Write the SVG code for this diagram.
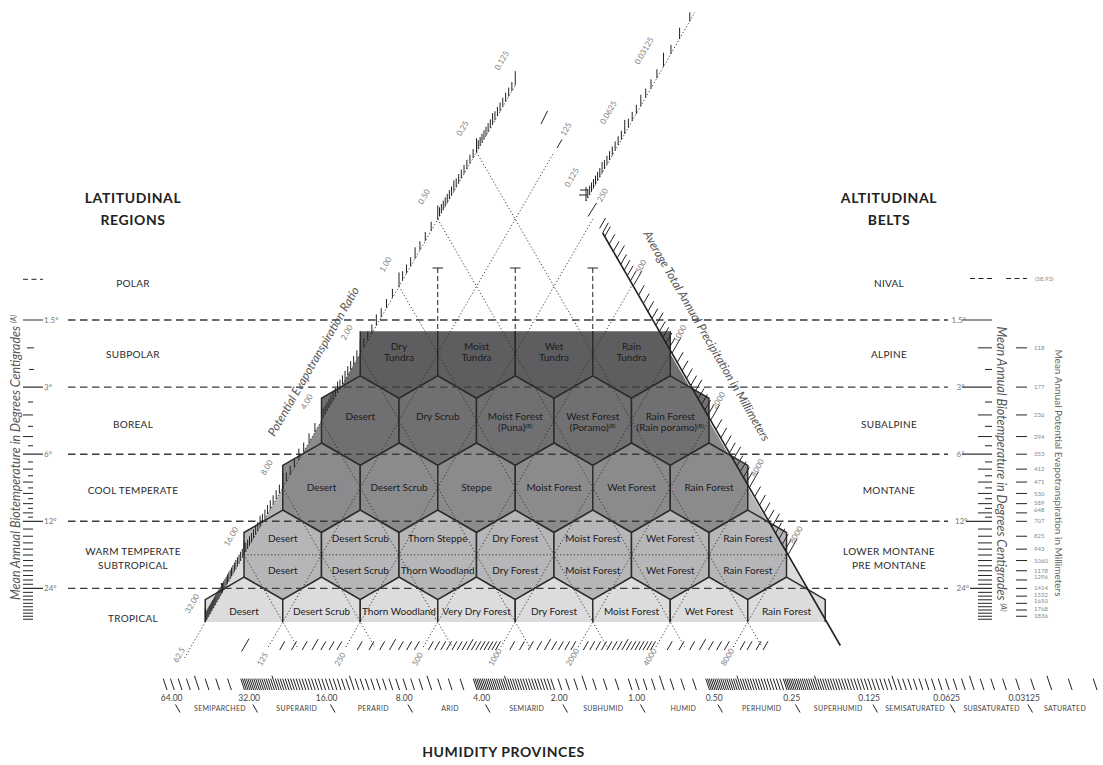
<svg xmlns="http://www.w3.org/2000/svg" width="1103" height="765" viewBox="0 0 1103 765">
<style>
text{font-family:Lato,"Open Sans","Liberation Sans",sans-serif}
.r1{fill:#5e5e61}.r2{fill:#707073}.r3{fill:#8b8b8e}.r4{fill:#b6b6b9}.r5{fill:#dcdcde}
.hx{stroke:#2c2c2c;stroke-width:1.5}
.lb{font-size:10px;fill:#1c1c1c;text-anchor:middle}
.sup{font-size:6px}
.dot{stroke:#2a2a2a;stroke-width:0.9;stroke-dasharray:1.2 2.2;fill:none}
.dash{stroke:#3c3c3c;stroke-width:1.4;stroke-dasharray:7.5 4.5;fill:none}
.reg{font-size:10px;fill:#2a2a2a;text-anchor:middle;letter-spacing:0.3px}
.hd{font-size:14px;font-weight:700;fill:#222;text-anchor:middle;letter-spacing:0.6px}
.ax{font-size:8px;fill:#808080;text-anchor:middle}
.deg{font-size:8px;fill:#777}
.ln{stroke:#222;stroke-width:1;fill:none}
.lnt{stroke:#333;stroke-width:1.2;fill:none}
.ttl{font-style:italic;fill:#555;text-anchor:middle}
.num{font-size:8.5px;fill:#444;text-anchor:middle}
.prov{font-size:7px;fill:#444;text-anchor:middle;letter-spacing:0.3px}
.pet{font-size:6px;fill:#888}
</style>
<defs>
<polygon id="hx" points="0,-44.74 38.75,-22.37 38.75,22.37 0,44.74 -38.75,22.37 -38.75,-22.37"/>
<path id="h1" d="M-38.75,-22.37V22.37L0,44.74L38.75,22.37V-22.37"/>
<path id="h5" d="M-38.75,0V-22.37L0,-44.74L38.75,-22.37V0"/>
<path id="t4" fill="none" stroke="#222" stroke-width="1" vector-effect="non-scaling-stroke" d="M14.93,0v-1M32.17,0v-1.25M52.55,0v-1"/>
<path id="t8" fill="none" stroke="#222" stroke-width="1" vector-effect="non-scaling-stroke" d="M7.22,0v-1M14.93,0v-1M23.22,0v-1M32.17,0v-1.25M41.89,0v-1M52.55,0v-1M64.33,0v-1"/>
<path id="t10" fill="none" stroke="#222" stroke-width="1" vector-effect="non-scaling-stroke" d="M5.74,0v-1M11.78,0v-1M18.17,0v-1M24.95,0v-1M32.17,0v-1.25M39.88,0v-1M48.17,0v-1M57.11,0v-1M66.84,0v-1"/>
<path id="t16" fill="none" stroke="#222" stroke-width="1" vector-effect="non-scaling-stroke" d="M3.55,0v-1M7.22,0v-1M11.01,0v-1M14.93,0v-1M19,0v-1M23.22,0v-1M27.6,0v-1M32.17,0v-1.25M36.92,0v-1M41.89,0v-1M47.1,0v-1M52.55,0v-1M58.29,0v-1M64.33,0v-1M70.72,0v-1"/>
<path id="t32" fill="none" stroke="#222" stroke-width="1" vector-effect="non-scaling-stroke" d="M1.76,0v-1M3.55,0v-1M5.37,0v-1M7.22,0v-1M9.1,0v-1M11.01,0v-1M12.95,0v-1M14.93,0v-1M16.94,0v-1M19,0v-1M21.09,0v-1M23.22,0v-1M25.39,0v-1M27.6,0v-1M29.86,0v-1M32.17,0v-1.25M34.52,0v-1M36.92,0v-1M39.38,0v-1M41.89,0v-1M44.46,0v-1M47.1,0v-1M49.79,0v-1M52.55,0v-1M55.38,0v-1M58.29,0v-1M61.28,0v-1M64.33,0v-1M67.51,0v-1M70.72,0v-1M74.06,0v-1"/>
</defs>

<g id="bands">
<polygon class="r2" points="360.25,353.55 670.25,353.55 709,420.65 321.5,420.65"/>
<polygon class="r3" points="321.5,420.65 709,420.65 747.75,487.75 282.75,487.75"/>
<polygon class="r4" points="282.75,487.75 747.75,487.75 786.5,554.85 244,554.85"/>
<polygon class="r5" points="244,554.85 786.5,554.85 825.25,621.95 205.25,621.95"/>
</g>

<g id="row1">
<g id="dry-tundra"><use href="#h1" x="399" y="353.55" class="r1 hx"/><text class="lb" x="399" y="350.2">Dry</text><text class="lb" x="399" y="360.8">Tundra</text></g>
<g id="moist-tundra"><use href="#h1" x="476.5" y="353.55" class="r1 hx"/><text class="lb" x="476.5" y="350.2">Moist</text><text class="lb" x="476.5" y="360.8">Tundra</text></g>
<g id="wet-tundra"><use href="#h1" x="554" y="353.55" class="r1 hx"/><text class="lb" x="554" y="350.2">Wet</text><text class="lb" x="554" y="360.8">Tundra</text></g>
<g id="rain-tundra"><use href="#h1" x="631.5" y="353.55" class="r1 hx"/><text class="lb" x="631.5" y="350.2">Rain</text><text class="lb" x="631.5" y="360.8">Tundra</text></g>
</g>

<g id="row2">
<g id="boreal-desert"><use href="#hx" x="360.25" y="420.65" class="r2 hx"/><text class="lb" x="360.25" y="420.3">Desert</text></g>
<g id="dry-scrub"><use href="#hx" x="437.75" y="420.65" class="r2 hx"/><text class="lb" x="437.75" y="420.3">Dry Scrub</text></g>
<g id="moist-forest-puna"><use href="#hx" x="515.25" y="420.65" class="r2 hx"/><text class="lb" x="515.25" y="420.3">Moist Forest</text><text class="lb" x="515.25" y="431.3">(Puna)<tspan class="sup" dy="-3">(B)</tspan></text></g>
<g id="west-forest-poramo"><use href="#hx" x="592.75" y="420.65" class="r2 hx"/><text class="lb" x="592.75" y="420.3">West Forest</text><text class="lb" x="592.75" y="431.3">(Poramo)<tspan class="sup" dy="-3">(B)</tspan></text></g>
<g id="rain-forest-rain-poramo"><use href="#hx" x="670.25" y="420.65" class="r2 hx"/><text class="lb" x="670.25" y="420.3">Rain Forest</text><text class="lb" x="670.25" y="431.3">(Rain poramo)<tspan class="sup" dy="-3">(B)</tspan></text></g>
</g>

<g id="row3">
<g id="cool-desert"><use href="#hx" x="321.5" y="487.75" class="r3 hx"/><text class="lb" x="321.5" y="491.3">Desert</text></g>
<g id="cool-desert-scrub"><use href="#hx" x="399" y="487.75" class="r3 hx"/><text class="lb" x="399" y="491.3">Desert Scrub</text></g>
<g id="steppe"><use href="#hx" x="476.5" y="487.75" class="r3 hx"/><text class="lb" x="476.5" y="491.3">Steppe</text></g>
<g id="cool-moist-forest"><use href="#hx" x="554" y="487.75" class="r3 hx"/><text class="lb" x="554" y="491.3">Moist Forest</text></g>
<g id="cool-wet-forest"><use href="#hx" x="631.5" y="487.75" class="r3 hx"/><text class="lb" x="631.5" y="491.3">Wet Forest</text></g>
<g id="cool-rain-forest"><use href="#hx" x="709" y="487.75" class="r3 hx"/><text class="lb" x="709" y="491.3">Rain Forest</text></g>
</g>

<g id="row4">
<g id="warm-desert"><use href="#hx" x="282.75" y="554.85" class="r4 hx"/><text class="lb" x="282.75" y="541.8">Desert</text><text class="lb" x="282.75" y="574.2">Desert</text></g>
<g id="warm-desert-scrub"><use href="#hx" x="360.25" y="554.85" class="r4 hx"/><text class="lb" x="360.25" y="541.8">Desert Scrub</text><text class="lb" x="360.25" y="574.2">Desert Scrub</text></g>
<g id="thorn-steppe"><use href="#hx" x="437.75" y="554.85" class="r4 hx"/><text class="lb" x="437.75" y="541.8">Thorn Steppe</text><text class="lb" x="437.75" y="574.2">Thorn Woodland</text></g>
<g id="warm-dry-forest"><use href="#hx" x="515.25" y="554.85" class="r4 hx"/><text class="lb" x="515.25" y="541.8">Dry Forest</text><text class="lb" x="515.25" y="574.2">Dry Forest</text></g>
<g id="warm-moist-forest"><use href="#hx" x="592.75" y="554.85" class="r4 hx"/><text class="lb" x="592.75" y="541.8">Moist Forest</text><text class="lb" x="592.75" y="574.2">Moist Forest</text></g>
<g id="warm-wet-forest"><use href="#hx" x="670.25" y="554.85" class="r4 hx"/><text class="lb" x="670.25" y="541.8">Wet Forest</text><text class="lb" x="670.25" y="574.2">Wet Forest</text></g>
<g id="warm-rain-forest"><use href="#hx" x="747.75" y="554.85" class="r4 hx"/><text class="lb" x="747.75" y="541.8">Rain Forest</text><text class="lb" x="747.75" y="574.2">Rain Forest</text></g>
</g>

<g id="row5">
<g id="trop-desert"><use href="#h5" x="244" y="621.95" class="r5 hx"/><text class="lb" x="244" y="615.2">Desert</text></g>
<g id="trop-desert-scrub"><use href="#h5" x="321.5" y="621.95" class="r5 hx"/><text class="lb" x="321.5" y="615.2">Desert Scrub</text></g>
<g id="trop-thorn-woodland"><use href="#h5" x="399" y="621.95" class="r5 hx"/><text class="lb" x="399" y="615.2">Thorn Woodland</text></g>
<g id="very-dry-forest"><use href="#h5" x="476.5" y="621.95" class="r5 hx"/><text class="lb" x="476.5" y="615.2">Very Dry Forest</text></g>
<g id="trop-dry-forest"><use href="#h5" x="554" y="621.95" class="r5 hx"/><text class="lb" x="554" y="615.2">Dry Forest</text></g>
<g id="trop-moist-forest"><use href="#h5" x="631.5" y="621.95" class="r5 hx"/><text class="lb" x="631.5" y="615.2">Moist Forest</text></g>
<g id="trop-wet-forest"><use href="#h5" x="709" y="621.95" class="r5 hx"/><text class="lb" x="709" y="615.2">Wet Forest</text></g>
<g id="trop-rain-forest"><use href="#h5" x="786.5" y="621.95" class="r5 hx"/><text class="lb" x="786.5" y="615.2">Rain Forest</text></g>
</g>

<g id="connectors">
<path class="dot" d="M184.5,658L515.25,85.15M268.29,647L554,152.15M345.79,647L592.75,219.25M423.29,647L631.5,286.35M500.79,647L670.25,353.45M578.29,647L709,420.55M655.79,647L747.75,487.65M733.29,647L786.5,554.75"/>
<path class="dot" d="M476.5,152.15L762.21,647M437.75,219.25L684.71,647M399,286.35L607.21,647M360.25,353.45L529.71,647M321.5,420.55L452.21,647M282.75,487.65L374.71,647M244,554.75L297.21,647"/>
<path class="dot" d="M244,554.85H786.5"/>
<path class="dash" d="M68,320H948M68,387.1H948M68,454.2H948M68,521.3H948M68,588.4H948"/>
<path class="ln" stroke-dasharray="5 3" d="M437.75,268V331M515.25,268V331M592.75,268V331"/>
<path class="ln" d="M432.5,268H443M510,268H520.5M587.5,268H598"/>
<path stroke="#222" stroke-width="1.6" fill="none" d="M602.7,233L840.3,645.5"/>
</g>

<g id="left-axis">
<use href="#t32" transform="matrix(0.5,-0.866,0,9,205.25,621.95)"/>
<use href="#t16" transform="matrix(0.5,-0.866,0,9,244,554.85)"/>
<use href="#t8" transform="matrix(0.5,-0.866,0,9,282.75,487.75)"/>
<use href="#t16" transform="matrix(0.5,-0.866,0,9,321.5,420.65)"/>
<use href="#t8" transform="matrix(0.5,-0.866,0,9,360.25,353.55)"/>
<use href="#t8" transform="matrix(0.5,-0.866,0,9,399,286.45)"/>
<use href="#t16" transform="matrix(0.5,-0.866,0,9,437.75,219.35)"/>
<use href="#t16" transform="matrix(0.5,-0.866,0,9,476.5,152.25)"/>
<path class="ln" d="M205.25,621.95v-14M244,554.85v-14M282.75,487.75v-14M321.5,420.65v-14M360.25,353.55v-14M399,286.45v-14M437.75,219.35v-14M476.5,152.25v-14M515.25,85.15v-14"/>
<text class="ax" transform="translate(192,603.5) rotate(-60)" dy="0.35em">32.00</text>
<text class="ax" transform="translate(231,536.5) rotate(-60)" dy="0.35em">16.00</text>
<text class="ax" transform="translate(266.7,467.5) rotate(-60)" dy="0.35em">8.00</text>
<text class="ax" transform="translate(306.7,401.7) rotate(-60)" dy="0.35em">4.00</text>
<text class="ax" transform="translate(346.7,332.5) rotate(-60)" dy="0.35em">2.00</text>
<text class="ax" transform="translate(385.5,264.5) rotate(-60)" dy="0.35em">1.00</text>
<text class="ax" transform="translate(424,196.7) rotate(-60)" dy="0.35em">0.50</text>
<text class="ax" transform="translate(462.5,128.3) rotate(-60)" dy="0.35em">0.25</text>
<text class="ax" transform="translate(501.7,60.5) rotate(-60)" dy="0.35em">0.125</text>
<text class="ttl" font-size="12" transform="translate(317,363.5) rotate(-60)">Potential Evapotranspiration Ratio</text>
</g>

<g id="upper-axis">
<path class="dot" d="M586,201L695,12"/>
<use href="#t16" transform="matrix(0.5,-0.866,0,9,586,201)"/>
<use href="#t8" transform="matrix(0.5,-0.866,0,9,624.75,133.9)"/>
<use href="#t4" transform="matrix(0.5,-0.866,0,9,663.5,66.8)"/>
<path class="ln" d="M586,201v-14M624.75,133.9v-14M663.5,66.8v-14M580,190h8M579,195h8"/>
<text class="ax" transform="translate(571.7,177.5) rotate(-60)" dy="0.35em">0.125</text>
<text class="ax" transform="translate(608.3,112.5) rotate(-60)" dy="0.35em">0.0625</text>
<text class="ax" transform="translate(644,50.8) rotate(-60)" dy="0.35em">0.03125</text>
</g>

<g id="right-axis">
<use href="#t10" transform="matrix(-0.5,-0.866,-6,10.39,633,286.35)"/>
<use href="#t10" transform="matrix(-0.5,-0.866,-6,10.39,671.75,353.45)"/>
<use href="#t10" transform="matrix(-0.5,-0.866,-6,10.39,710.5,420.55)"/>
<use href="#t10" transform="matrix(-0.5,-0.866,-6,10.39,749.25,487.65)"/>
<use href="#t10" transform="matrix(-0.5,-0.866,-6,10.39,788,554.75)"/>
<path class="ln" d="M633,286.35l9,-15.6M671.75,353.45l9,-15.6M710.5,420.55l9,-15.6M749.25,487.65l9,-15.6M788,554.75l9,-15.6M602.7,233l5.6,-10.3M541,124l6.5,-13M557,148l5,-8.5M588,216.5l8.5,-13.5"/>
<text class="ax" transform="translate(641,266.4) rotate(-60)" dy="0.35em">500</text>
<text class="ax" transform="translate(679.8,333.5) rotate(-60)" dy="0.35em">1000</text>
<text class="ax" transform="translate(718.5,400.6) rotate(-60)" dy="0.35em">2000</text>
<text class="ax" transform="translate(757.3,467.7) rotate(-60)" dy="0.35em">4000</text>
<text class="ax" transform="translate(796,534.8) rotate(-60)" dy="0.35em">8000</text>
<text class="ax" transform="translate(566,129) rotate(-60)" dy="0.35em">125</text>
<text class="ax" transform="translate(602.5,195) rotate(-60)" dy="0.35em">250</text>
<text class="ttl" font-size="12" transform="translate(703,338) rotate(60)">Average Total Annual Precipitation in Millimeters</text>
</g>

<g id="bottom-precip">
<use href="#t8" transform="matrix(-1,0,-5,8.66,344.05,650)"/>
<use href="#t8" transform="matrix(-1,0,-5,8.66,421.55,650)"/>
<use href="#t16" transform="matrix(-1,0,-5,8.66,499.05,650)"/>
<use href="#t10" transform="matrix(-1,0,-5,8.66,576.55,650)"/>
<use href="#t16" transform="matrix(-1,0,-5,8.66,654.05,650)"/>
<use href="#t8" transform="matrix(-1,0,-5,8.66,731.55,650)"/>
<path class="ln" d="M241.6,651.5l7.4,-12.8M740,650l5,-8.66M747,650l5,-8.66M756,650l5,-8.66M763,650l5,-8.66"/>
<text class="ax" transform="translate(179,655) rotate(-60)" dy="0.35em">62.5</text>
<text class="ax" transform="translate(262.5,659) rotate(-60)" dy="0.35em">125</text>
<text class="ax" transform="translate(340,659) rotate(-60)" dy="0.35em">250</text>
<text class="ax" transform="translate(417.5,659) rotate(-60)" dy="0.35em">500</text>
<text class="ax" transform="translate(495,657) rotate(-60)" dy="0.35em">1000</text>
<text class="ax" transform="translate(572.5,657) rotate(-60)" dy="0.35em">2000</text>
<text class="ax" transform="translate(650,657) rotate(-60)" dy="0.35em">4000</text>
<text class="ax" transform="translate(727.5,657) rotate(-60)" dy="0.35em">8000</text>
</g>

<g id="humidity-scale">
<use href="#t8" transform="matrix(1,0,3.8,11.4,167.04,690)"/>
<use href="#t32" transform="matrix(1,0,3.8,11.4,244.54,690)"/>
<use href="#t16" transform="matrix(1,0,3.8,11.4,322.04,690)"/>
<use href="#t8" transform="matrix(1,0,3.8,11.4,399.54,690)"/>
<use href="#t32" transform="matrix(1,0,3.8,11.4,477.04,690)"/>
<use href="#t8" transform="matrix(1,0,3.8,11.4,554.54,690)"/>
<use href="#t8" transform="matrix(1,0,3.8,11.4,632.04,690)"/>
<use href="#t32" transform="matrix(1,0,3.8,11.4,709.54,690)"/>
<use href="#t32" transform="matrix(1,0,3.8,11.4,787.04,690)"/>
<use href="#t16" transform="matrix(1,0,3.8,11.4,864.54,690)"/>
<use href="#t8" transform="matrix(1,0,3.8,11.4,942.04,690)"/>
<use href="#t4" transform="matrix(1,0,3.8,11.4,1019.54,690)"/>
<path class="ln" d="M167.04,690l-3.8,-11.4M244.54,690l-3.8,-11.4M322.04,690l-3.8,-11.4M399.54,690l-3.8,-11.4M477.04,690l-3.8,-11.4M554.54,690l-3.8,-11.4M632.04,690l-3.8,-11.4M709.54,690l-3.8,-11.4M787.04,690l-3.8,-11.4M864.54,690l-3.8,-11.4M942.04,690l-3.8,-11.4M1019.54,690l-3.8,-11.4M1097.04,690l-3.8,-11.4"/>
<path class="ln" d="M175.41,704.5l4.62,8M252.91,704.5l4.62,8M330.41,704.5l4.62,8M407.91,704.5l4.62,8M485.41,704.5l4.62,8M562.91,704.5l4.62,8M640.41,704.5l4.62,8M717.91,704.5l4.62,8M795.41,704.5l4.62,8M872.91,704.5l4.62,8M950.41,704.5l4.62,8M1027.91,704.5l4.62,8"/>
<text class="num" x="171.7" y="701">64.00</text>
<text class="num" x="249.2" y="701">32.00</text>
<text class="num" x="326.7" y="701">16.00</text>
<text class="num" x="404.2" y="701">8.00</text>
<text class="num" x="481.7" y="701">4.00</text>
<text class="num" x="559.2" y="701">2.00</text>
<text class="num" x="636.7" y="701">1.00</text>
<text class="num" x="714.2" y="701">0.50</text>
<text class="num" x="791.7" y="701">0.25</text>
<text class="num" x="869.2" y="701">0.125</text>
<text class="num" x="946.7" y="701">0.0625</text>
<text class="num" x="1024.2" y="701">0.03125</text>
<text class="prov" x="220" y="710.8">SEMIPARCHED</text>
<text class="prov" x="296.7" y="710.8">SUPERARID</text>
<text class="prov" x="373.3" y="710.8">PERARID</text>
<text class="prov" x="450" y="710.8">ARID</text>
<text class="prov" x="526.7" y="710.8">SEMIARID</text>
<text class="prov" x="603.3" y="710.8">SUBHUMID</text>
<text class="prov" x="683.3" y="710.8">HUMID</text>
<text class="prov" x="761.7" y="710.8">PERHUMID</text>
<text class="prov" x="838.3" y="710.8">SUPERHUMID</text>
<text class="prov" x="915" y="710.8">SEMISATURATED</text>
<text class="prov" x="991.7" y="710.8">SUBSATURATED</text>
<text class="prov" x="1065" y="710.8">SATURATED</text>
<text class="hd" x="503.5" y="757" font-size="13">HUMIDITY PROVINCES</text>
</g>

<g id="left-labels">
<text class="hd" x="133" y="203">LATITUDINAL</text>
<text class="hd" x="133" y="225">REGIONS</text>
<text class="reg" x="133" y="286.5">POLAR</text>
<text class="reg" x="133" y="357.5">SUBPOLAR</text>
<text class="reg" x="133" y="427.8">BOREAL</text>
<text class="reg" x="133" y="493.5">COOL TEMPERATE</text>
<text class="reg" x="133" y="555.2">WARM TEMPERATE</text>
<text class="reg" x="133" y="568.5">SUBTROPICAL</text>
<text class="reg" x="133" y="621.8">TROPICAL</text>
</g>

<g id="right-labels">
<text class="hd" x="889" y="203">ALTITUDINAL</text>
<text class="hd" x="889" y="225">BELTS</text>
<text class="reg" x="889" y="286.5">NIVAL</text>
<text class="reg" x="889" y="357.5">ALPINE</text>
<text class="reg" x="889" y="427.8">SUBALPINE</text>
<text class="reg" x="889" y="493.5">MONTANE</text>
<text class="reg" x="889" y="555.2">LOWER MONTANE</text>
<text class="reg" x="889" y="568.5">PRE MONTANE</text>
</g>

<g id="left-ruler">
<path class="ln" stroke-dasharray="5 3.5" d="M23,279.3H43"/>
<path class="lnt" d="M23,320H43M23,387.1H43M23,454.2H43M23,521.3H43M23,588.4H43"/>
<path class="ln" d="M27,347.85H34M29,369.45H34M28,402.02H33M23,414.95H33M28,426.35H33M23,436.55H33M28,445.78H33M28,461.95H33M23,469.12H33M28,475.8H33M23,482.05H33M28,487.92H33M23,493.45H33M28,498.69H33M23,503.65H33M28,508.37H33M23,512.88H33M28,517.18H33M23,529.05H33M23,536.22H33M23,542.9H33M23,549.15H33M23,555.02H33M23,560.55H33M23,565.79H33M23,570.75H33M23,575.47H33M23,579.98H33M23,584.28H33M23,592.35H33M23,596.15H33M23,599.8H33M23,603.32H33M23,606.72H33M23,610H33M23,613.18H33M23,616.25H33M23,619.23H33"/>
<text class="deg" x="44" y="322.5">1.5°</text>
<text class="deg" x="44" y="389.6">3°</text>
<text class="deg" x="44" y="456.7">6°</text>
<text class="deg" x="44" y="523.8">12°</text>
<text class="deg" x="44" y="590.9">24°</text>
<text class="ttl" font-size="12.5" transform="translate(19.5,457.5) rotate(-90)">Mean Annual Biotemperature in Degrees Centigrades <tspan font-size="7" dy="-4">(A)</tspan></text>
</g>

<g id="right-ruler">
<path class="ln" stroke-dasharray="5 3.5" d="M970,278.5H992M1006,278.5H1027"/>
<path class="lnt" d="M962,320H992M962,387.1H992M962,454.2H992M966,521.3H992M970,588.4H992"/>
<path class="ln" d="M978,347.85H992M985,369.45H992M985,402.02H992M978,414.95H992M985,426.35H992M978,436.55H992M985,445.78H992M985,461.95H992M978,469.12H992M985,475.8H992M978,482.05H992M985,487.92H992M978,493.45H992M985,498.69H992M978,503.65H992M985,508.37H992M978,512.88H992M985,517.18H992M978,529.05H992M978,536.22H992M978,542.9H992M978,549.15H992M978,555.02H992M978,560.55H992M978,565.79H992M978,570.75H992M978,575.47H992M978,579.98H992M978,584.28H992M978,592.35H992M978,596.15H992M978,599.8H992M978,603.32H992M978,606.72H992M978,610H992M978,613.18H992M978,616.25H992M978,619.23H992"/>
<path class="ln" d="M1016,347.85H1027M1016,387.1H1027M1016,414.95H1027M1016,436.55H1027M1016,454.2H1027M1016,469.12H1027M1016,482.05H1027M1016,493.45H1027M1016,503.65H1027M1016,512.88H1027M1016,521.3H1027M1016,536.22H1027M1016,549.15H1027M1016,560.55H1027M1016,570.75H1027M1016,579.98H1027M1016,588.4H1027M1016,596.15H1027M1016,603.32H1027M1016,610H1027M1016,616.25H1027"/>
<text class="deg" x="951.5" y="322.5">1.5°</text>
<text class="deg" x="956.5" y="389.6">3°</text>
<text class="deg" x="956.5" y="456.7">6°</text>
<text class="deg" x="955" y="523.8">12°</text>
<text class="deg" x="956.5" y="590.9">24°</text>
<text class="pet" x="1035" y="280.5">(58.93)</text>
<text class="pet" x="1034" y="350">118</text>
<text class="pet" x="1034" y="389.2">177</text>
<text class="pet" x="1034" y="417">236</text>
<text class="pet" x="1034" y="438.7">294</text>
<text class="pet" x="1034" y="456.3">353</text>
<text class="pet" x="1034" y="471.2">412</text>
<text class="pet" x="1034" y="484.1">471</text>
<text class="pet" x="1034" y="495.5">530</text>
<text class="pet" x="1034" y="505.4">589</text>
<text class="pet" x="1034" y="512.4">648</text>
<text class="pet" x="1034" y="523.4">707</text>
<text class="pet" x="1034" y="538.3">825</text>
<text class="pet" x="1034" y="551.2">943</text>
<text class="pet" x="1034" y="563.2">1060</text>
<text class="pet" x="1034" y="573">1178</text>
<text class="pet" x="1034" y="579.3">1296</text>
<text class="pet" x="1034" y="590.4">1414</text>
<text class="pet" x="1034" y="597">1532</text>
<text class="pet" x="1034" y="603.3">1650</text>
<text class="pet" x="1034" y="611">1768</text>
<text class="pet" x="1034" y="617.6">1836</text>
<text class="ttl" font-size="12.5" transform="translate(997,469) rotate(90)">Mean Annual Biotemperature in Degrees Centigrades <tspan font-size="7" dy="-4">(A)</tspan></text>
<text font-size="10" fill="#666" text-anchor="middle" transform="translate(1054.5,473) rotate(90)">Mean Annual Potential Evapotranspiration in Millimeters</text>
</g>
</svg>
